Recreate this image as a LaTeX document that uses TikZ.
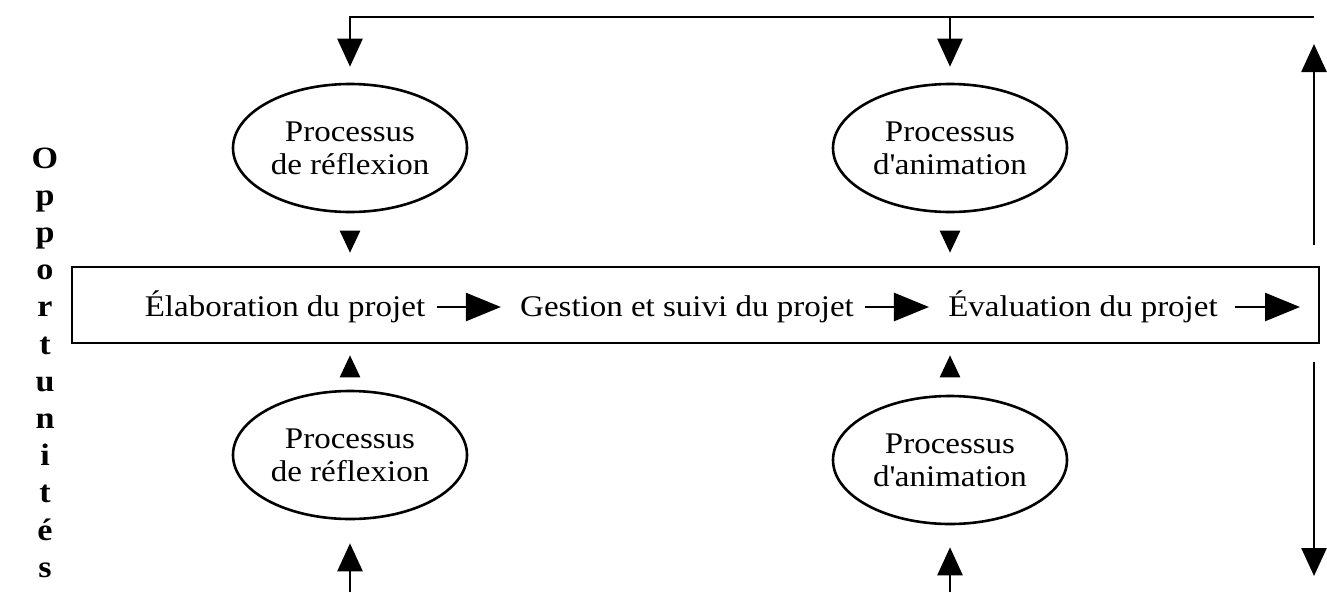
\documentclass[tikz,border=0pt]{standalone}
\usepackage{fontspec}
\setmainfont{Liberation Serif}[FakeStretch=1.1]
\usepackage{tikz}
\usetikzlibrary{arrows.meta,shapes.geometric}

\begin{document}
\begin{tikzpicture}[x=1pt,y=-1pt,line width=2.6pt,
    proc/.style={draw,ellipse,minimum width=234pt,minimum height=128pt,inner sep=0pt,align=center,font=\fontsize{30}{33}\selectfont},
    etape/.style={inner sep=10pt,font=\fontsize{30}{31}\selectfont},
    lettre/.style={font=\fontsize{31}{31}\selectfont\bfseries},
    bigtip/.style={-{Triangle[length=28pt,width=25pt]}},
    smalltip/.style={-{Triangle[length=22pt,width=20pt]}},
    flow/.style={-{Triangle[length=35pt,width=28pt]}}]
  \useasboundingbox (0,0) rectangle (1327,592);

  \node[draw,line width=2.6pt,minimum width=1247pt,minimum height=76pt,inner sep=0pt] (projet) at (695.5,305) {};

  \node[proc] (refl1) at (350,148) {Processus\\de réflexion};
  \node[proc] (anim1) at (950,148) {Processus\\d\textquotesingle animation};
  \node[proc] (refl2) at (350,455) {Processus\\de réflexion};
  \node[proc] (anim2) at (950,460) {Processus\\d\textquotesingle animation};

  \node[etape,anchor=base] (elab) at (285,316) {Élaboration du projet};
  \node[etape,anchor=base] (gest) at (687,316) {Gestion et suivi du projet};
  \node[etape,anchor=base] (eval) at (1083,316) {Évaluation du projet};
  \coordinate (fin) at (1300,307);

  \coordinate (topR) at (1314,17);
  \coordinate (topM) at (950,17);
  \coordinate (botL) at (350,592);
  \coordinate (botM) at (950,592);
  \coordinate (upA) at (1314,245);
  \coordinate (upB) at (1314,44);
  \coordinate (dnA) at (1314,362);
  \coordinate (dnB) at (1314,576);

  \foreach \ch [count=\i] in {O,p,p,o,r,t,u,n,i,t,é,s}
    \node[lettre,anchor=base] (op\i) at (45,{168+37.2*(\i-1)}) {\ch};

  \draw[bigtip,shorten >=16pt] (topR) -| (refl1);
  \draw[bigtip,shorten >=16pt] (topM) -- (anim1);
  \draw[bigtip,shorten >=23pt] (botL) -- (refl2);
  \draw[bigtip,shorten >=22pt] (botM) -- (anim2);

  \draw[smalltip,shorten <=18pt,shorten >=13pt] (refl1.south) -- (refl1.south |- projet.north);
  \draw[smalltip,shorten <=18pt,shorten >=13pt] (anim1.south) -- (anim1.south |- projet.north);
  \draw[smalltip,shorten <=14pt,shorten >=11pt] (refl2.north) -- (refl2.north |- projet.south);
  \draw[smalltip,shorten <=19pt,shorten >=11pt] (anim2.north) -- (anim2.north |- projet.south);

  \draw[flow,shorten >=8pt] ([yshift=9pt]elab.base east) -- ([yshift=9pt]gest.base west);
  \draw[flow,shorten >=8pt] ([yshift=9pt]gest.base east) -- ([yshift=9pt]eval.base west);
  \draw[flow,shorten <=6pt] ([yshift=9pt]eval.base east) -- (fin);

  \draw[bigtip] (upA) -- (upB);
  \draw[bigtip] (dnA) -- (dnB);
\end{tikzpicture}
\end{document}
